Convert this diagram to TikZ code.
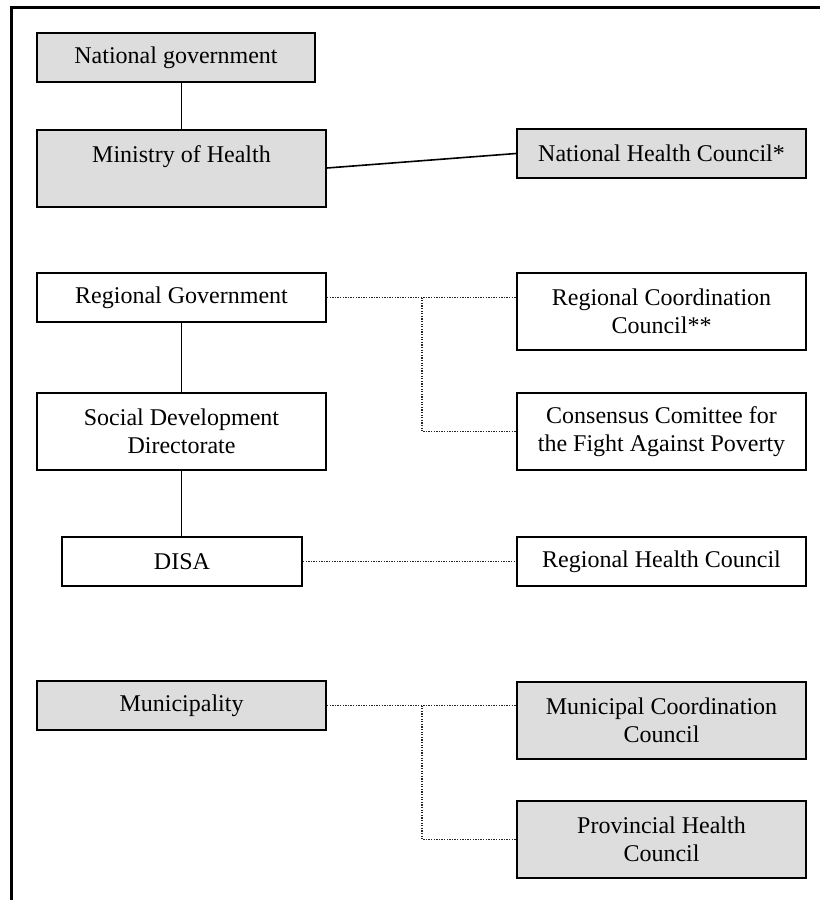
\documentclass[tikz,border=0pt]{standalone}
\usepackage{fontspec}
\setmainfont{Liberation Serif}
\usepackage{tikz}
\definecolor{boxgray}{RGB}{221,221,221}
\tikzstyle{unit} = [draw, line width=2pt, align=center, inner sep=0pt, minimum width=289pt, font=\fontsize{24}{27.6}\selectfont]
\tikzstyle{oneline} = [unit, minimum height=49pt]
\tikzstyle{twoline} = [unit, minimum height=77pt]
\tikzstyle{shaded} = [fill=boxgray]
\tikzstyle{tie} = [line width=1.6pt]
\tikzstyle{link} = [dash pattern=on 1.3pt off 1.3pt, line width=1.3pt, black!85]

\begin{document}
\begin{tikzpicture}[yscale=-1]
			\useasboundingbox (0pt,0pt) rectangle (820pt,900pt);
			\draw[line width=2.2pt] (11.5pt,900pt) -- (11.5pt,7.5pt) -- (820pt,7.5pt);
			\node[oneline,shaded,minimum width=278pt] (natgov) at (176pt,57.5pt) {National government};
			\node[twoline,shaded] (minhealth) at (181.5pt,168pt) {Ministry of Health\\~};
			\node[oneline,shaded] (nathc) at (661.5pt,153.5pt) {National Health Council*};
			\node[oneline] (reggov) at (181.5pt,297.5pt) {Regional Government};
			\node[twoline] (regcc) at (661.5pt,311.5pt) {Regional Coordination\\Council**};
			\node[twoline] (socdev) at (181.5pt,431.5pt) {Social Development\\Directorate};
			\node[twoline] (consensus) at (661.5pt,431.5pt) {Consensus Comittee for\\the Fight Against Poverty};
			\node[oneline,minimum width=240pt] (disa) at (182pt,561.5pt) {DISA};
			\node[oneline] (reghc) at (661.5pt,561.5pt) {Regional Health Council};
			\node[oneline,shaded] (muni) at (181.5pt,705.5pt) {Municipality};
			\node[twoline,shaded] (municc) at (661.5pt,720pt) {Municipal Coordination\\Council};
			\node[twoline,shaded] (provhc) at (661.5pt,839.5pt) {Provincial Health\\Council};
			\coordinate (regfork) at (422pt,0pt);
			\coordinate (munfork) at (422pt,0pt);
			\draw[tie] (natgov.south -| minhealth.north) -- (minhealth.north);
			\draw[tie] (minhealth.east) -- (nathc.west);
			\draw[tie] (reggov) -- (socdev);
			\draw[tie] (socdev.south) -- (socdev.south |- disa.north);
			\draw[link] (reggov.east) -- (reggov.east -| regcc.west);
			\draw[link] (reggov.east -| regfork) -- (consensus.west -| regfork) -- (consensus.west);
			\draw[link] (disa.east) -- (disa.east -| reghc.west);
			\draw[link] (muni.east) -- (muni.east -| municc.west);
			\draw[link] (muni.east -| munfork) -- (provhc.west -| munfork) -- (provhc.west);
		\end{tikzpicture}
\end{document}
